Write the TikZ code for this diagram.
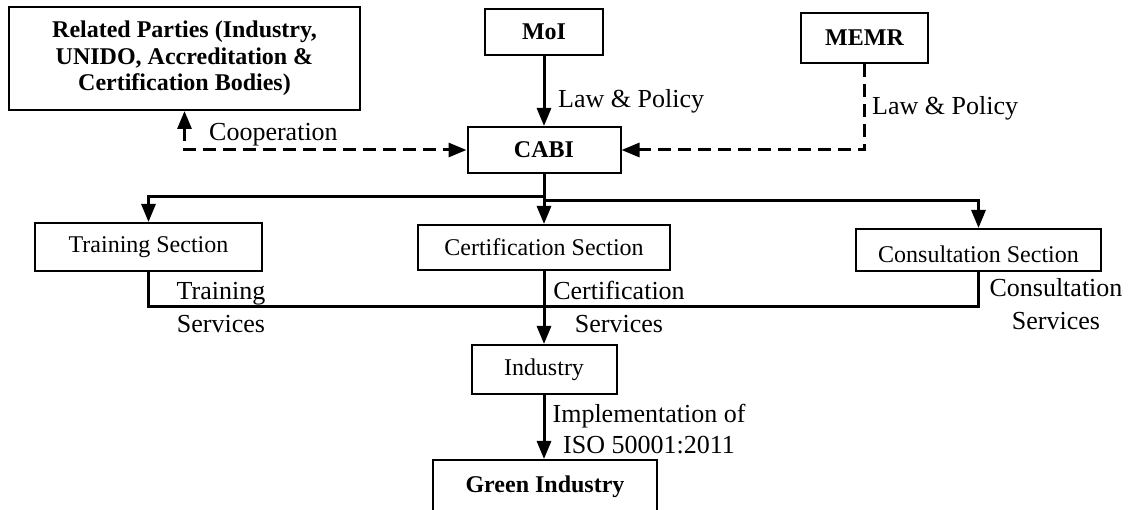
\documentclass[tikz,border=0pt]{standalone}
\usepackage{fontspec}
\setmainfont{Liberation Serif}
\usetikzlibrary{arrows.meta}
\begin{document}
\begin{tikzpicture}[x=1pt,y=-1pt,
  box/.style={draw, line width=2pt, inner sep=0pt, align=center, font=\fontsize{24}{26.5}\selectfont},
  bbox/.style={box, font=\fontsize{24}{26.5}\selectfont\bfseries},
  lbl/.style={inner sep=0pt, align=center, font=\fontsize{26}{33}\selectfont},
  tip/.style={-{Triangle[length=18pt,width=14pt]}},
  ln/.style={line width=3pt},
  arr/.style={ln, tip},
  dsh/.style={line width=3pt, dash pattern=on 13pt off 7pt}]
\useasboundingbox (0,0) rectangle (1136,510);
\clip (0,0) rectangle (1136,510);
% nodes
\node[bbox, minimum width=351pt, minimum height=103pt] (rel) at (184.5,58.5)
  {Related Parties (Industry,\\UNIDO, Accreditation \&\\Certification Bodies)};
\node[bbox, minimum width=118pt, minimum height=46pt] (moi) at (544,32) {MoI};
\node[bbox, minimum width=127pt, minimum height=50pt] (memr) at (864.5,38) {MEMR};
\node[bbox, minimum width=153pt, minimum height=46pt] (cabi) at (544,150) {CABI};
\node[box, minimum width=227pt, minimum height=48pt] (train) at (148.5,247) {Training Section};
\node[box, minimum width=252pt, minimum height=45pt] (cert) at (544,247.5) {Certification Section};
\node[box, minimum width=245pt, minimum height=42pt, text height=34pt, text depth=8pt] (cons) at (978.5,250) {Consultation Section};
\node[box, minimum width=145pt, minimum height=49pt] (ind) at (544,369.5) {Industry};
\node[bbox, minimum width=224pt, minimum height=54pt] (green) at (545,487) {Green Industry};
% coordinates
\coordinate (brL) at (544,197);
\coordinate (brR) at (544,201);
\coordinate (jn) at (544,307);
% connectors
\draw[arr] (moi.south) -- (cabi.north);
\draw[dsh, -{Triangle[length=18pt,width=14pt]}] (memr.south) |- (cabi.east);
\draw[dsh, {Triangle[length=18pt,width=14pt]}-{Triangle[length=18pt,width=14pt]}] (rel.south) |- (cabi.west);
\draw[arr] (cabi.south) -- (brL) -| (train.north);
\draw[arr] (cabi.south) -- (cert.north);
\draw[arr] (brR) -| (cons.north);
\draw[ln] (train.south) |- (jn);
\draw[ln] (cons.south) |- (jn);
\draw[arr] (cert.south) -- (ind.north);
\draw[arr] (ind.south) -- (ind.south |- green.north);
% labels
\node[lbl, anchor=west] (l1) at (558,101) {Law \& Policy};
\node[lbl, anchor=west] (l2) at (872,108) {Law \& Policy};
\node[lbl, anchor=west] (l3) at (209,135) {Cooperation};
\node[lbl] (l4) at (221,308) {Training\\Services};
\node[lbl] (l5) at (619,307) {Certification\\Services};
\node[lbl] (l6) at (1056,304) {Consultation\\Services};
\node[lbl, font=\fontsize{26}{31}\selectfont] (l7) at (649,429) {Implementation of\\ISO 50001:2011};
\end{tikzpicture}
\end{document}
